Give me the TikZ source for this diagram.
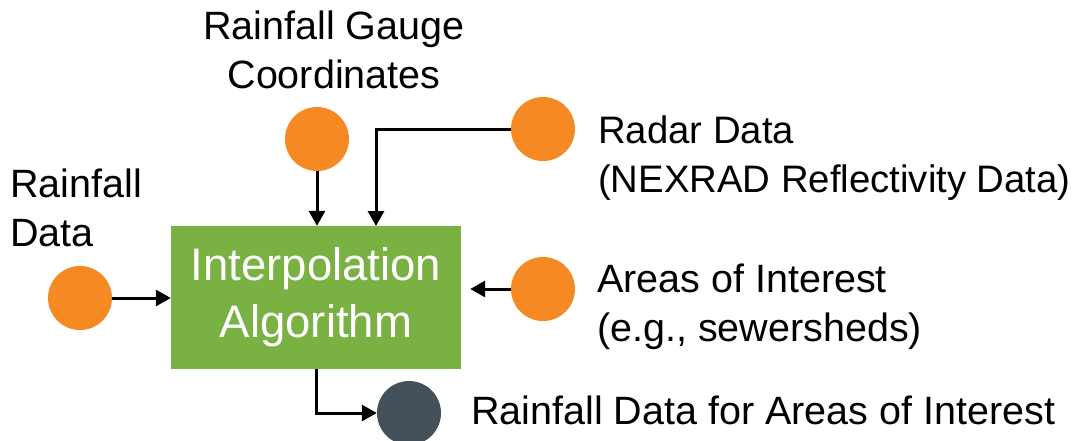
\documentclass[tikz,border=0pt]{standalone}
\usepackage{fontspec}
\setmainfont{Liberation Sans}
\usetikzlibrary{arrows.meta}
\definecolor{dotorange}{HTML}{F58A24}
\definecolor{boxgreen}{HTML}{7AB143}
\definecolor{slate}{HTML}{44515B}
\tikzset{
  src/.style={circle, fill=dotorange, minimum size=64pt, inner sep=0pt},
  sink/.style={circle, fill=slate, minimum size=64pt, inner sep=0pt},
  algobox/.style={rectangle, fill=boxgreen, minimum width=290pt, minimum height=143pt,
    inner sep=0pt, text=white, align=center, font=\fontsize{45.5}{57}\selectfont},
  lbl/.style={inner sep=0pt, align=left, font=\fontsize{39.5}{49}\selectfont},
  flow/.style={line width=3pt, -{Triangle[length=15pt,width=16pt]}},
}
\begin{document}
\begin{tikzpicture}[x=1pt, y=-1pt]
  \useasboundingbox (0,0) rectangle (1076,440);

  % central processing block
  \node[algobox] (algo) at (316,297.5) {Interpolation\\Algorithm};

  % inputs and output
  \node[src]  (rain)   at (80,298)  {};
  \node[src]  (gauge)  at (317,139) {};
  \node[src]  (radar)  at (543,129) {};
  \node[src]  (areas)  at (543,289) {};
  \node[sink] (result) at (409,413) {};

  % labels
  \node[lbl, anchor=north, align=center] (gaugelbl) at (334,11) {Rainfall Gauge\\Coordinates};
  \node[lbl, anchor=north west] (rainlbl)  at (10,169)  {Rainfall\\Data};
  \node[lbl, anchor=north west, font=\fontsize{38.3}{49}\selectfont] (radarlbl) at (598,116)
    {Radar Data\\(NEXRAD Reflectivity Data)};
  \node[lbl, anchor=north west] (areaslbl) at (597,264) {Areas of Interest\\(e.g., sewersheds)};
  \node[lbl, anchor=north west] (reslbl)   at (471,396) {Rainfall Data for Areas of Interest};

  % connectors
  \coordinate (radarin) at (376,226);
  \draw[flow] (rain.east) -- (rain.east -| algo.west);
  \draw[flow] (gauge.south) -- (gauge.south |- algo.north);
  \draw[flow] (radar.west) -| (radarin);
  \draw[flow, shorten >=9pt] (areas.west) -- (areas.west -| algo.east);
  \draw[flow] (algo.south) |- (result.west);
\end{tikzpicture}
\end{document}
